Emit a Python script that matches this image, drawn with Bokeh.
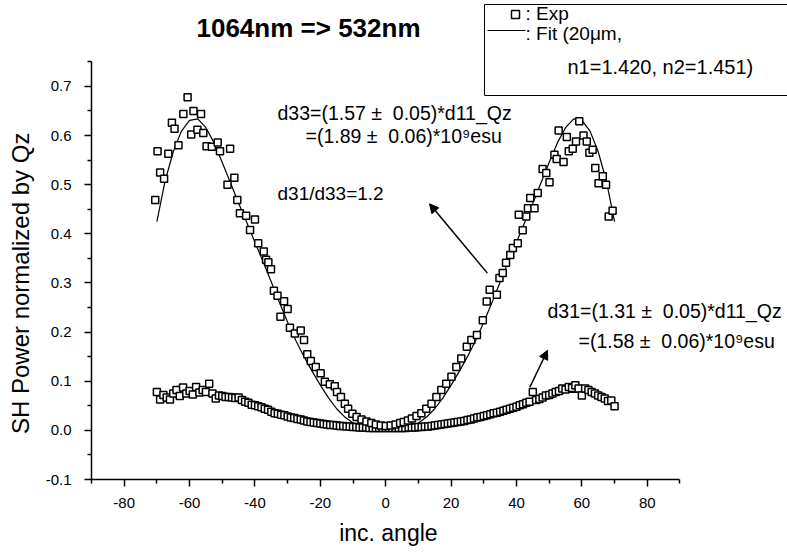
import math
from bokeh.plotting import figure
from bokeh.models import (Range1d, FixedTicker, PrintfTickFormatter, Label, Arrow,
                          NormalHead, BoxAnnotation)
from bokeh.embed import file_html
from bokeh.resources import INLINE

# ---------------- data ----------------
x_ticks = [-80, -60, -40, -20, 0, 20, 40, 60, 80]
x_minor = [-90, -70, -50, -30, -10, 10, 30, 50, 70, 90]
y_ticks = [-0.1, 0.0, 0.1, 0.2, 0.3, 0.4, 0.5, 0.6, 0.7]
y_minor = [-0.05, 0.05, 0.15, 0.25, 0.35, 0.45, 0.55, 0.65, 0.75]

# d33 measurement (large curve)
big_x = [-70.5, -69.8, -69.0, -67.8, -66.5, -65.4, -64.6, -63.4, -61.9, -60.6,
         -59.5, -58.8, -57.6, -56.5, -55.8, -54.8, -53.2, -51.4, -50.7, -48.4,
         -47.6, -46.3, -45.4, -44.6, -42.7, -41.5, -40.0, -39.0, -37.3, -36.6,
         -35.9, -35.1, -34.2, -33.1, -32.2, -31.1, -30.0, -29.3, -27.8, -26.0,
         -25.0, -24.0, -22.9, -21.4, -19.9, -18.6, -17.1, -15.6, -14.9, -13.7,
         -12.5, -11.5, -10.2, -8.9, -7.4, -5.9, -4.4, -3.0, -1.5, 0.0,
         1.5, 3.0, 4.4, 5.5, 6.8, 8.0, 9.4, 10.9, 12.4, 14.0,
         15.5, 17.0, 18.5, 20.1, 21.6, 23.1, 24.8, 26.2, 27.9, 29.7,
         30.9, 31.8, 34.0, 34.8, 35.8, 36.8, 38.1, 38.9, 40.4, 40.7,
         41.9, 43.0, 43.5, 44.2, 45.5, 46.5, 48.0, 49.1, 50.1, 51.6,
         52.3, 52.9, 54.4, 55.4, 56.0, 57.2, 58.2, 59.2, 60.5, 61.5,
         62.3, 63.3, 64.1, 65.1, 66.4, 67.4, 68.2, 69.4]
big_y = [0.469, 0.568, 0.525, 0.512, 0.563, 0.626, 0.614, 0.580, 0.644, 0.678,
         0.602, 0.650, 0.612, 0.644, 0.605, 0.578, 0.577, 0.586, 0.568, 0.500,
         0.573, 0.514, 0.469, 0.442, 0.437, 0.408, 0.429, 0.381, 0.364, 0.347,
         0.342, 0.328, 0.284, 0.274, 0.231, 0.263, 0.247, 0.209, 0.197, 0.203,
         0.184, 0.155, 0.141, 0.129, 0.116, 0.099, 0.094, 0.090, 0.078, 0.068,
         0.054, 0.044, 0.034, 0.027, 0.022, 0.018, 0.015, 0.012, 0.010, 0.009,
         0.010, 0.012, 0.015, 0.017, 0.020, 0.024, 0.029, 0.035, 0.044, 0.054,
         0.068, 0.082, 0.095, 0.109, 0.129, 0.146, 0.170, 0.184, 0.194, 0.224,
         0.262, 0.286, 0.276, 0.310, 0.320, 0.341, 0.357, 0.371, 0.381, 0.439,
         0.407, 0.435, 0.452, 0.473, 0.452, 0.483, 0.532, 0.524, 0.505, 0.561,
         0.552, 0.610, 0.546, 0.597, 0.568, 0.573, 0.588, 0.629, 0.600, 0.588,
         0.565, 0.571, 0.534, 0.503, 0.517, 0.500, 0.435, 0.447]

# d31 measurement (small curve)
small_x = [-70, -69, -68, -67, -66, -65, -64, -63, -62, -61,
           -60, -59, -58, -57, -56, -55, -54, -53, -52, -51,
           -50, -49, -48, -47, -46, -45, -44, -43, -42, -41,
           -40, -39, -38, -37, -36, -35, -34, -33, -32, -31,
           -30, -29, -28, -27, -26, -25, -24, -23, -22, -21,
           -20, -19, -18, -17, -16, -15, -14, -13, -12, -11,
           -10, -9, -8, -7, -6, -5, -4, -3, -2, -1,
           0,
           1, 2, 3, 4, 5, 6, 7, 8, 9, 10,
           11, 12, 13, 14, 15, 16, 17, 18, 19, 20,
           21, 22, 23, 24, 25, 26, 27, 28, 29, 30,
           31, 32, 33, 34, 35, 36, 37, 38, 39, 40,
           41, 42, 43, 44, 45, 46, 47, 48, 49, 50,
           51, 52, 53, 54, 55, 56, 57, 58, 59, 60,
           61, 62, 63, 64, 65, 66, 67, 68, 69, 70]
small_y = [0.078, 0.063, 0.072, 0.067, 0.063, 0.075, 0.082, 0.070, 0.087, 0.075,
           0.080, 0.073, 0.088, 0.077, 0.082, 0.078, 0.095, 0.075, 0.065, 0.071,
           0.070, 0.068, 0.068, 0.067, 0.066, 0.067, 0.062, 0.058, 0.056, 0.052,
           0.051, 0.049, 0.047, 0.044, 0.042, 0.038, 0.035, 0.034, 0.032, 0.031,
           0.028, 0.026, 0.025, 0.023, 0.022, 0.020, 0.018, 0.017, 0.016, 0.015,
           0.014, 0.013, 0.012, 0.011, 0.011, 0.010, 0.009, 0.009, 0.008, 0.008,
           0.007, 0.007, 0.006, 0.006, 0.006, 0.005, 0.005, 0.005, 0.005, 0.005,
           0.005,
           0.005, 0.005, 0.005, 0.005, 0.005, 0.005, 0.006, 0.006, 0.006, 0.007,
           0.007, 0.008, 0.008, 0.009, 0.010, 0.011, 0.012, 0.013, 0.014, 0.015,
           0.016, 0.017, 0.018, 0.019, 0.021, 0.022, 0.024, 0.026, 0.027, 0.029,
           0.031, 0.033, 0.035, 0.036, 0.038, 0.040, 0.042, 0.044, 0.046, 0.048,
           0.051, 0.053, 0.056, 0.058, 0.078, 0.062, 0.064, 0.067, 0.071, 0.072,
           0.075, 0.078, 0.080, 0.085, 0.083, 0.088, 0.086, 0.092, 0.085, 0.071,
           0.085, 0.082, 0.078, 0.075, 0.071, 0.068, 0.065, 0.060, 0.061, 0.049]

# fit curves
fit_x = [-70, -67.5, -65, -62.5, -60, -57.5, -55, -52.5, -50, -47.5,
         -45, -42.5, -40, -37.5, -35, -32.5, -30, -27.5, -25, -22.5,
         -20, -17.5, -15, -12.5, -10, -7.5, -5, -2.5, 0,
         2.5, 5, 7.5, 10, 12.5, 15, 17.5, 20, 22.5, 25,
         27.5, 30, 32.5, 35, 37.5, 40, 42.5, 45, 47.5, 50,
         52.5, 55, 57.5, 60, 62.5, 65, 67.5, 70]
fit_big = [0.425, 0.507, 0.567, 0.609, 0.631, 0.634, 0.616, 0.585, 0.545, 0.504,
           0.462, 0.423, 0.383, 0.343, 0.302, 0.260, 0.220, 0.183, 0.150, 0.120,
           0.092, 0.066, 0.044, 0.027, 0.015, 0.008, 0.004, 0.001, 0.000,
           0.001, 0.004, 0.008, 0.015, 0.027, 0.044, 0.066, 0.092, 0.120, 0.150,
           0.183, 0.220, 0.260, 0.302, 0.343, 0.383, 0.423, 0.462, 0.504, 0.545,
           0.585, 0.616, 0.634, 0.631, 0.609, 0.567, 0.507, 0.425]
fit_small = [0.059, 0.066, 0.071, 0.075, 0.077, 0.078, 0.077, 0.075, 0.072, 0.068,
             0.063, 0.057, 0.050, 0.045, 0.040, 0.035, 0.030, 0.025, 0.020, 0.016,
             0.012, 0.009, 0.007, 0.005, 0.004, 0.002, 0.001, 0.0005, 0.000,
             0.0005, 0.001, 0.002, 0.004, 0.005, 0.007, 0.009, 0.012, 0.016, 0.020,
             0.025, 0.030, 0.035, 0.040, 0.045, 0.050, 0.057, 0.063, 0.068, 0.072,
             0.075, 0.077, 0.078, 0.077, 0.075, 0.071, 0.066, 0.059]

FONT = "Liberation Sans"
NB = "\u00a0"

p = figure(width=787, height=552, output_backend="svg", toolbar_location=None,
           title=None,
           x_range=Range1d(-90, 122.9), y_range=Range1d(-0.1, 0.8748),
           min_border_left=91, min_border_right=0, min_border_top=0,
           min_border_bottom=73)
p.outline_line_color = None
p.xgrid.visible = False
p.ygrid.visible = False
p.background_fill_color = "white"
p.border_fill_color = "white"

# axes
p.axis.axis_line_color = "black"
p.axis.axis_line_width = 1.5
p.axis.major_tick_line_color = "black"
p.axis.major_tick_line_width = 1.5
p.axis.minor_tick_line_color = "black"
p.axis.minor_tick_line_width = 1.5
p.axis.major_tick_in = 0
p.axis.major_tick_out = 7
p.axis.minor_tick_in = 0
p.axis.minor_tick_out = 4
p.axis.major_label_text_font = FONT
p.axis.major_label_text_font_size = "15px"
p.axis.major_label_text_color = "black"
p.axis.axis_label_text_font = FONT
p.axis.axis_label_text_font_style = "normal"
p.axis.axis_label_text_color = "black"

p.xaxis.bounds = (-90, 90)
p.yaxis.bounds = (-0.1, 0.75)
p.xaxis.ticker = FixedTicker(ticks=x_ticks, minor_ticks=x_minor)
p.yaxis.ticker = FixedTicker(ticks=y_ticks, minor_ticks=y_minor)
p.xaxis.formatter = PrintfTickFormatter(format="%d")
p.yaxis.formatter = PrintfTickFormatter(format="%.1f")
p.xaxis.major_label_standoff = 11
p.yaxis.major_label_standoff = 13
# the axis titles are centred on the whole frame; trailing no-break spaces
# move the visible words to where the original shows them
p.xaxis.axis_label = "inc. angle" + NB * 16
p.yaxis.axis_label = "SH Power normalized by Qz" + NB * 13
p.xaxis.axis_label_text_font_size = "23px"
p.yaxis.axis_label_text_font_size = "24px"
p.xaxis.axis_label_standoff = 9
p.yaxis.axis_label_standoff = 9

# fits and data
p.line(fit_x, fit_big, line_color="black", line_width=1.2)
p.line(fit_x, fit_small, line_color="black", line_width=1.2)
p.scatter(small_x, small_y, marker="square", size=7, fill_color="white",
          line_color="black", line_width=1.5)
p.scatter(big_x, big_y, marker="square", size=7, fill_color="white",
          line_color="black", line_width=1.5)


def lab(text, x, y, size="19px", align="left", style="normal", angle=0.0):
    p.add_layout(Label(x=x, y=y, x_units="screen", y_units="screen", text=text,
                       text_font=FONT, text_font_size=size, text_align=align,
                       text_baseline="middle", text_font_style=style,
                       text_color="black", angle=angle))


# title
lab("1064nm => 532nm", 217, 452, size="26px", align="center", style="bold")

# annotations
lab("d33=(1.57 \u00b1" + NB + " 0.05)*d11_Qz", 186, 367, size="19.5px")
lab("=(1.89 \u00b1" + NB + " 0.06)*10\u2079esu", 214, 344, size="19.5px")
lab("d31/d33=1.2", 186, 286)
lab("d31=(1.31 \u00b1" + NB + " 0.05)*d11_Qz", 456, 169, size="19.5px")
lab("=(1.58 \u00b1" + NB + " 0.06)*10\u2079esu", 487, 139, size="19.5px")

p.add_layout(Arrow(end=NormalHead(size=9, fill_color="black", line_color="black"),
                   x_start=31.1, y_start=0.320, x_end=13.4, y_end=0.461,
                   line_color="black", line_width=1.5))
p.add_layout(Arrow(end=NormalHead(size=9, fill_color="black", line_color="black"),
                   x_start=44.1, y_start=0.088, x_end=49.5, y_end=0.163,
                   line_color="black", line_width=1.5))

# legend (drawn by hand to follow the original layout)
p.add_layout(BoxAnnotation(left=393, right=800, bottom=384, top=475,
                           left_units="screen", right_units="screen",
                           bottom_units="screen", top_units="screen",
                           fill_color=None, line_color="black", line_alpha=1.0,
                           line_width=1))
p.add_layout(BoxAnnotation(left=420, right=428, bottom=461, top=469,
                           left_units="screen", right_units="screen",
                           bottom_units="screen", top_units="screen",
                           fill_color="white", fill_alpha=1.0, line_color="black",
                           line_alpha=1.0, line_width=1.5))
p.add_layout(Arrow(end=None, x_start=396, y_start=449, x_end=434, y_end=449,
                   start_units="screen", end_units="screen",
                   line_color="black", line_width=1))
lab(": Exp", 434, 466)
lab(": Fit (20\u03bcm,", 434, 446)
lab("n1=1.420, n2=1.451)", 476, 413, size="20px")

open("out.html", "w").write(file_html(p, INLINE))
